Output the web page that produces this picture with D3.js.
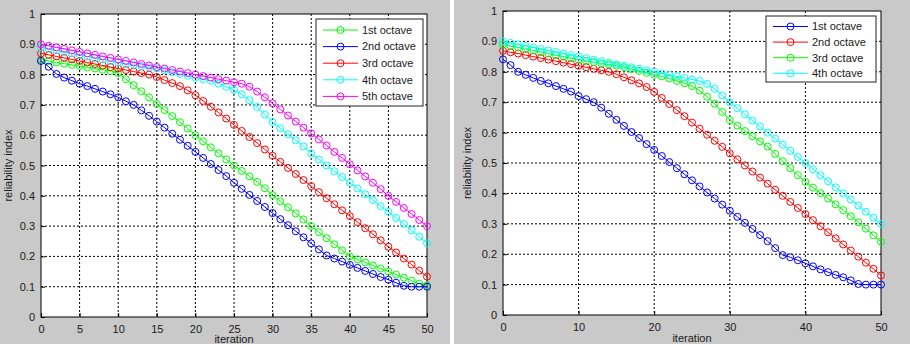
<!DOCTYPE html>
<html lang="en">
<head>
<meta charset="utf-8">
<title>reliability index</title>
<script src="https://cdn.jsdelivr.net/npm/d3@7"></script>
<style>
  body { margin: 0; background: #fff; }
  svg { display: block; }
  text { font-family: "Liberation Sans", Arial, sans-serif; font-size: 11px; fill: #1a1a1a; }
</style>
</head>
<body>
<script>
// iterations 0..50
var iterations = d3.range(0, 51);

// left panel (5 octaves)
var leftOct1 = [0.85,0.845,0.84,0.836,0.832,0.828,0.824,0.82,0.816,0.812,0.805,0.785,0.765,0.745,0.725,0.703,0.683,0.663,0.643,0.622,0.60,0.58,0.56,0.54,0.52,0.50,0.482,0.464,0.446,0.425,0.402,0.382,0.362,0.342,0.322,0.30,0.28,0.26,0.24,0.22,0.20,0.19,0.18,0.17,0.16,0.15,0.14,0.13,0.12,0.11,0.105];
var leftOct2 = [0.845,0.826,0.802,0.79,0.78,0.77,0.762,0.753,0.744,0.735,0.725,0.712,0.70,0.682,0.664,0.645,0.625,0.605,0.585,0.565,0.545,0.525,0.505,0.485,0.465,0.443,0.423,0.403,0.383,0.363,0.343,0.323,0.303,0.283,0.263,0.243,0.223,0.203,0.193,0.183,0.172,0.162,0.152,0.142,0.132,0.123,0.113,0.103,0.10,0.10,0.10];
var leftOct3 = [0.87,0.865,0.86,0.855,0.85,0.845,0.84,0.835,0.83,0.825,0.82,0.815,0.81,0.805,0.80,0.792,0.782,0.772,0.762,0.748,0.732,0.713,0.694,0.675,0.655,0.634,0.614,0.594,0.574,0.553,0.532,0.512,0.492,0.472,0.452,0.432,0.412,0.392,0.372,0.352,0.333,0.313,0.293,0.273,0.253,0.232,0.213,0.193,0.173,0.153,0.133];
var leftOct4 = [0.89,0.885,0.88,0.875,0.87,0.865,0.86,0.855,0.85,0.845,0.84,0.836,0.832,0.828,0.824,0.82,0.814,0.808,0.802,0.796,0.79,0.785,0.78,0.77,0.76,0.75,0.735,0.715,0.693,0.668,0.643,0.623,0.603,0.583,0.563,0.54,0.52,0.50,0.481,0.462,0.443,0.424,0.405,0.386,0.366,0.347,0.327,0.307,0.286,0.265,0.243];
var leftOct5 = [0.90,0.895,0.89,0.885,0.88,0.875,0.87,0.865,0.86,0.855,0.85,0.845,0.84,0.835,0.83,0.825,0.82,0.815,0.81,0.805,0.80,0.795,0.79,0.785,0.78,0.775,0.77,0.76,0.744,0.725,0.705,0.685,0.665,0.645,0.625,0.606,0.586,0.566,0.545,0.525,0.504,0.484,0.464,0.443,0.422,0.40,0.38,0.36,0.34,0.32,0.30];

// right panel (4 octaves)
var rightOct1 = [0.841,0.822,0.80,0.79,0.78,0.77,0.762,0.753,0.744,0.735,0.72,0.71,0.70,0.682,0.662,0.642,0.622,0.602,0.582,0.562,0.543,0.523,0.503,0.483,0.463,0.443,0.423,0.403,0.383,0.363,0.343,0.323,0.303,0.283,0.263,0.243,0.22,0.197,0.19,0.18,0.17,0.16,0.15,0.141,0.132,0.124,0.114,0.102,0.10,0.10,0.10];
var rightOct2 = [0.869,0.864,0.86,0.855,0.85,0.845,0.84,0.835,0.83,0.825,0.82,0.815,0.81,0.805,0.80,0.792,0.782,0.772,0.762,0.75,0.734,0.714,0.694,0.674,0.654,0.633,0.613,0.593,0.573,0.553,0.532,0.512,0.492,0.472,0.452,0.432,0.412,0.392,0.372,0.352,0.332,0.312,0.292,0.272,0.252,0.232,0.212,0.192,0.172,0.152,0.13];
var rightOct3 = [0.89,0.885,0.88,0.875,0.87,0.865,0.86,0.855,0.85,0.845,0.84,0.836,0.832,0.828,0.824,0.82,0.815,0.809,0.803,0.797,0.79,0.785,0.778,0.77,0.762,0.753,0.738,0.718,0.695,0.668,0.641,0.623,0.605,0.588,0.571,0.554,0.53,0.506,0.483,0.46,0.438,0.419,0.401,0.383,0.364,0.345,0.325,0.305,0.284,0.262,0.241];
var rightOct4 = [0.90,0.895,0.89,0.885,0.88,0.875,0.87,0.865,0.86,0.855,0.85,0.845,0.84,0.835,0.83,0.825,0.82,0.815,0.81,0.805,0.80,0.795,0.79,0.785,0.78,0.775,0.77,0.76,0.744,0.722,0.70,0.68,0.66,0.64,0.62,0.60,0.58,0.56,0.54,0.52,0.50,0.48,0.46,0.44,0.42,0.40,0.38,0.36,0.34,0.32,0.30];

var leftNames = ["1st octave", "2nd octave", "3rd octave", "4th octave", "5th octave"];
var rightNames = ["1st octave", "2nd octave", "3rd octave", "4th octave"];
var leftColors = ["#00ff00", "#0000ff", "#ff0000", "#00ffff", "#ff00ff"];
var rightColors = ["#0000ff", "#ff0000", "#00ff00", "#00ffff"];
var yTicks = [0, 0.1, 0.2, 0.3, 0.4, 0.5, 0.6, 0.7, 0.8, 0.9, 1];
var leftXTicks = [0, 5, 10, 15, 20, 25, 30, 35, 40, 45, 50];
var rightXTicks = [0, 10, 20, 30, 40, 50];

var W = 910, H = 344;
var svg = d3.select("body").append("svg").attr("width", W).attr("height", H);

// figure backgrounds
svg.append("rect").attr("x", 0).attr("y", 0).attr("width", 450).attr("height", H).attr("fill", "#c9c9c9");
svg.append("rect").attr("x", 454).attr("y", 0).attr("width", W - 454).attr("height", H).attr("fill", "#c9c9c9");

var drawPanel = function(p){
    var x = d3.scaleLinear().domain([0, 50]).range([p.left, p.right]);
    var y = d3.scaleLinear().domain([0, 1]).range([p.bottom, p.top]);
    var g = svg.append("g");

    g.append("rect")
        .attr("x", p.left).attr("y", p.top)
        .attr("width", p.right - p.left).attr("height", p.bottom - p.top)
        .attr("fill", "#fff");

    // dotted grid
    g.selectAll(".gx").data(p.xTicks.slice(1, -1)).enter().append("line")
        .attr("x1", function(d){ return x(d); }).attr("x2", function(d){ return x(d); })
        .attr("y1", p.top).attr("y2", p.bottom)
        .attr("stroke", "#000").attr("stroke-dasharray", "2,2").attr("stroke-width", 1);
    g.selectAll(".gy").data(yTicks.slice(1, -1)).enter().append("line")
        .attr("x1", p.left).attr("x2", p.right)
        .attr("y1", function(d){ return y(d); }).attr("y2", function(d){ return y(d); })
        .attr("stroke", "#000").attr("stroke-dasharray", "2,2").attr("stroke-width", 1);

    // axes (ticks inward)
    g.append("g").attr("transform", "translate(0," + p.bottom + ")")
        .call(d3.axisBottom(x).tickValues(p.xTicks).tickSizeInner(-4).tickSizeOuter(0).tickPadding(8).tickFormat(d3.format("d")))
        .call(function(a){ a.select(".domain").remove(); a.selectAll("text").attr("font-size", 12).attr("font-family", null).attr("dy", "0.71em"); });
    g.append("g").attr("transform", "translate(" + p.left + ",0)")
        .call(d3.axisLeft(y).tickValues(yTicks).tickSizeInner(-4).tickSizeOuter(0).tickPadding(6).tickFormat(function(d){ return d === 0 || d === 1 ? d3.format("d")(d) : d3.format(".1f")(d); }))
        .call(function(a){ a.select(".domain").remove(); a.selectAll("text").attr("font-size", 12).attr("font-family", null); });

    g.append("rect")
        .attr("x", p.left).attr("y", p.top)
        .attr("width", p.right - p.left).attr("height", p.bottom - p.top)
        .attr("fill", "none").attr("stroke", "#000").attr("stroke-width", 1);

    // series
    var line = d3.line().x(function(d, i){ return x(iterations[i]); }).y(function(d){ return y(d); });
    p.series.forEach(function(s, k){
        g.append("path").datum(s).attr("d", line)
            .attr("fill", "none").attr("stroke", p.colors[k]).attr("stroke-width", 1);
        g.selectAll(null).data(s).enter().append("circle")
            .attr("cx", function(d, i){ return x(iterations[i]); })
            .attr("cy", function(d){ return y(d); })
            .attr("r", 3.5)
            .attr("fill", "none").attr("stroke", p.colors[k]).attr("stroke-width", 1);
    });

    // axis labels
    g.append("text").attr("x", (p.left + p.right) / 2).attr("y", p.xlabY)
        .attr("text-anchor", "middle").attr("font-size", 12).text("iteration");
    g.append("text").attr("transform", "translate(" + p.ylabX + "," + ((p.top + p.bottom) / 2) + ") rotate(-90)")
        .attr("text-anchor", "middle").attr("font-size", 11).text("reliability index");

    // legend
    var L = p.legend;
    g.append("rect").attr("x", L.x).attr("y", L.y).attr("width", L.w).attr("height", L.h)
        .attr("fill", "#fff").attr("stroke", "#222").attr("stroke-width", 1);
    p.names.forEach(function(n, k){
        var yy = L.y + L.first + k * L.step;
        g.append("line").attr("x1", L.x + 7).attr("x2", L.x + 42).attr("y1", yy).attr("y2", yy)
            .attr("stroke", p.colors[k]).attr("stroke-width", 1);
        g.append("circle").attr("cx", L.x + 24.5).attr("cy", yy).attr("r", 3.5)
            .attr("fill", "none").attr("stroke", p.colors[k]);
        g.append("text").attr("x", L.x + 46).attr("y", yy).attr("dy", "0.35em")
            .attr("font-size", 11).text(n);
    });
};

drawPanel({
    left: 41, right: 427, top: 14, bottom: 317,
    xTicks: leftXTicks, xlabY: 343, ylabX: 12,
    series: [leftOct1, leftOct2, leftOct3, leftOct4, leftOct5],
    colors: leftColors, names: leftNames,
    legend: { x: 316, y: 19, w: 107, h: 87, first: 11, step: 16.6 }
});

drawPanel({
    left: 503, right: 881, top: 11, bottom: 315,
    xTicks: rightXTicks, xlabY: 342, ylabX: 471,
    series: [rightOct1, rightOct2, rightOct3, rightOct4],
    colors: rightColors, names: rightNames,
    legend: { x: 766, y: 16, w: 110, h: 66, first: 10.5, step: 15.6 }
});
</script>
</body>
</html>
